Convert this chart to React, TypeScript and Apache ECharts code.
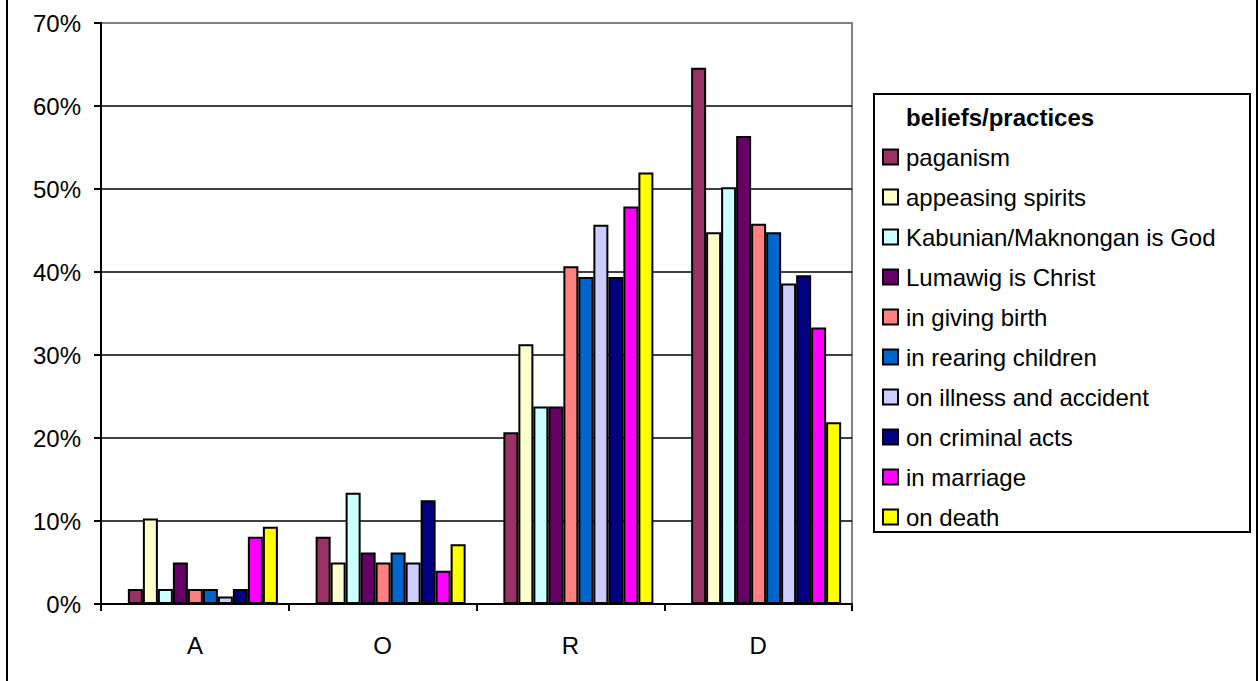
import React, { useEffect, useRef } from "react";
import * as echarts from "echarts";

const categories = ["A", "O", "R", "D"];
const seriesNames = [
  "paganism",
  "appeasing spirits",
  "Kabunian/Maknongan is God",
  "Lumawig is Christ",
  "in giving birth",
  "in rearing children",
  "on illness and accident",
  "on criminal acts",
  "in marriage",
  "on death",
];
const seriesColors = [
  "#993366",
  "#FFFFCC",
  "#CCFFFF",
  "#660066",
  "#FF8080",
  "#0066CC",
  "#CCCCFF",
  "#000080",
  "#FF00FF",
  "#FFFF00",
];
// values in percent, per category A, O, R, D
const paganism = [1.8, 8.1, 20.7, 64.6];
const appeasingSpirits = [10.3, 5.0, 31.3, 44.8];
const kabunian = [1.8, 13.4, 23.8, 50.2];
const lumawig = [5.0, 6.2, 23.8, 56.4];
const givingBirth = [1.8, 5.0, 40.7, 45.8];
const rearingChildren = [1.8, 6.2, 39.4, 44.8];
const illnessAccident = [0.9, 5.0, 45.7, 38.6];
const criminalActs = [1.8, 12.5, 39.4, 39.6];
const marriage = [8.1, 4.0, 47.9, 33.3];
const death = [9.3, 7.2, 52.0, 21.9];
const seriesValues = [
  paganism,
  appeasingSpirits,
  kabunian,
  lumawig,
  givingBirth,
  rearingChildren,
  illnessAccident,
  criminalActs,
  marriage,
  death,
];
const yTicks = { min: 0, max: 70, interval: 10 };
const legendTitle = "beliefs/practices";

const FONT = "'Liberation Sans', Arial, sans-serif";

export default function App() {
  const ref = useRef<HTMLDivElement>(null);
  useEffect(() => {
    if (!ref.current) return;
    const chart = echarts.init(ref.current, undefined, { renderer: "svg" });
    chart.setOption({
      animation: false,
      backgroundColor: "#ffffff",
      textStyle: { fontFamily: FONT },
      grid: [
        {
          left: 101,
          right: 406,
          top: 23,
          bottom: 77,
          show: true,
          borderColor: "#808080",
          borderWidth: 2,
          backgroundColor: "transparent",
        },
        // bars are drawn slightly offset to the right, as in the original
        { left: 109, right: 398, top: 23, bottom: 77 },
      ],
      legend: {
        orient: "vertical",
        left: 877,
        top: 140,
        itemWidth: 15,
        itemHeight: 15,
        itemGap: 16,
        icon: "rect",
        textStyle: {
          fontFamily: FONT,
          fontSize: 24,
          lineHeight: 24,
          color: "#000",
          padding: [0, 0, 0, 3],
        },
        data: seriesNames,
      },
      xAxis: [
        {
          type: "category",
          gridIndex: 0,
          data: categories,
          axisLine: { lineStyle: { color: "#000", width: 2 } },
          axisTick: { show: true, alignWithLabel: false, length: 7, lineStyle: { color: "#000", width: 2 } },
          axisLabel: { fontFamily: FONT, fontSize: 24, color: "#000", margin: 29 },
        },
        {
          type: "category",
          gridIndex: 1,
          data: categories,
          show: false,
        },
      ],
      yAxis: [
        {
          type: "value",
          gridIndex: 0,
          min: yTicks.min,
          max: yTicks.max,
          interval: yTicks.interval,
          axisLine: { show: true, lineStyle: { color: "#000", width: 2 } },
          axisTick: { show: true, length: 7, lineStyle: { color: "#000", width: 2 } },
          axisLabel: {
            fontFamily: FONT,
            fontSize: 24,
            color: "#000",
            margin: 20,
            formatter: "{value}%",
          },
          splitLine: {
            show: true,
            lineStyle: {
              color: ["#000", "#000", "#000", "#000", "#000", "#000", "#000", "#808080"],
              width: 1.5,
            },
          },
          z: 0,
        },
        {
          type: "value",
          gridIndex: 1,
          min: yTicks.min,
          max: yTicks.max,
          interval: yTicks.interval,
          show: false,
          splitLine: { show: false },
        },
      ],
      series: seriesNames.map((name, i) => ({
        name,
        type: "bar",
        xAxisIndex: 1,
        yAxisIndex: 1,
        data: seriesValues[i],
        barWidth: 15,
        barGap: 0,
        z: 3,
        itemStyle: { color: seriesColors[i], borderColor: "#000", borderWidth: 2 },
      })),
      graphic: [
        {
          type: "rect",
          shape: { x: 874, y: 94, width: 376, height: 438 },
          style: { fill: "transparent", stroke: "#000", lineWidth: 2 },
          z: -1,
        },
        {
          type: "text",
          x: 906,
          y: 117,
          style: {
            text: legendTitle,
            fontFamily: FONT,
            fontSize: 24,
            fontWeight: "bold",
            fill: "#000",
            verticalAlign: "middle",
          },
        },
        {
          type: "line",
          shape: { x1: 7, y1: 0, x2: 7, y2: 681 },
          style: { stroke: "#000", lineWidth: 2 },
        },
        {
          type: "line",
          shape: { x1: 1257, y1: 0, x2: 1257, y2: 681 },
          style: { stroke: "#000", lineWidth: 2 },
        },
      ],
    });
    return () => chart.dispose();
  }, []);
  return (
    <div
      ref={ref}
      style={{ position: "fixed", left: 0, top: 0, width: 1258, height: 681, background: "#fff" }}
    />
  );
}
